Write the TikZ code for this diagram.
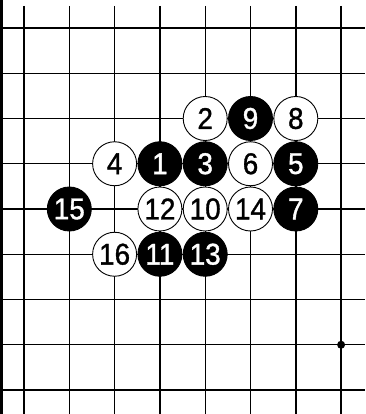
\documentclass[tikz,border=0pt]{standalone}
\usepackage{fontspec}
\newfontfamily\numfont{Liberation Sans}[FakeBold=1.2]
\newcommand\stonenum[1]{\scalebox{0.93}[1]{#1}}
\tikzset{
  gridline/.style={line width=1.4pt, black},
  edgeline/.style={line width=3pt, black},
  stonebase/.style={circle, draw=black, line width=0.9pt, minimum size=44pt, inner sep=0pt,
    font=\numfont\fontsize{30}{30}\selectfont},
  bstone/.style={stonebase, fill=black, text=white},
  wstone/.style={stonebase, fill=white, text=black},
  hoshi/.style={circle, fill=black, minimum size=8pt, inner sep=0pt},
}
\begin{document}
\begin{tikzpicture}[x=1pt, y=-1pt]
  \useasboundingbox (0,0) rectangle (365,414);
  \fill[white] (0,0) rectangle (365,414);
  % grid
  \foreach \c in {0,...,7} {
    \draw[gridline] ({24+45.3*\c},6) -- ({24+45.3*\c},414);
  }
  \foreach \r in {0,...,8} {
    \draw[gridline] (0,{28+45.25*\r}) -- (365,{28+45.25*\r});
  }
  \draw[edgeline] (1.5,0) -- (1.5,414);
  \node[hoshi] (star) at ({24+45.3*7},{28+45.25*7}) {};
  % black stones
  \foreach \c/\r/\n in {3/3/1, 4/3/3, 6/3/5, 6/4/7, 5/2/9, 3/5/11, 4/5/13, 1/4/15} {
    \node[bstone] (m\n) at ({24+45.3*\c},{28+45.25*\r}) {\stonenum{\n}};
  }
  % white stones
  \foreach \c/\r/\n in {4/2/2, 2/3/4, 5/3/6, 6/2/8, 4/4/10, 3/4/12, 5/4/14, 2/5/16} {
    \node[wstone] (m\n) at ({24+45.3*\c},{28+45.25*\r}) {\stonenum{\n}};
  }
\end{tikzpicture}
\end{document}
